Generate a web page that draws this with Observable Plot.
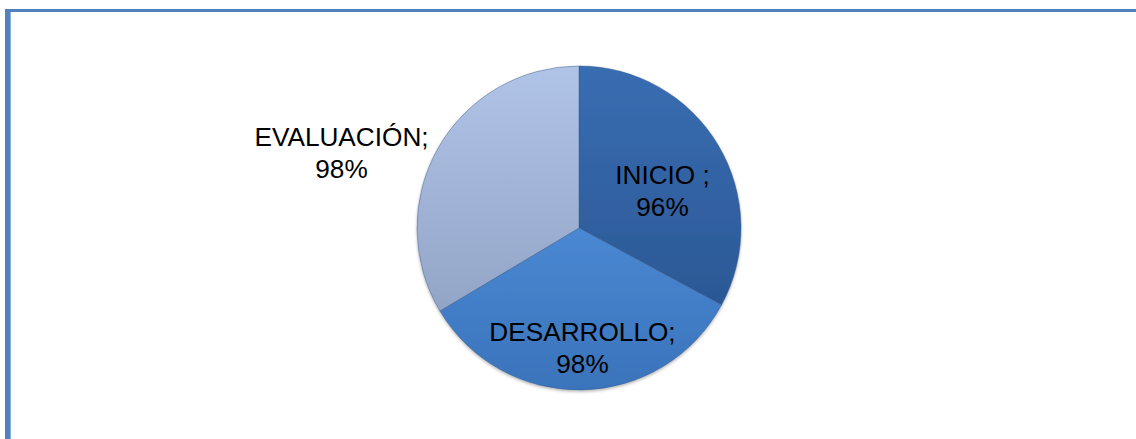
<!DOCTYPE html>
<html><head><meta charset="utf-8">
<script src="https://cdn.jsdelivr.net/npm/d3@7"></script>
<script src="https://cdn.jsdelivr.net/npm/@observablehq/plot@0.6"></script>
<style>
html,body{margin:0;padding:0;background:#fff;overflow:hidden;width:1136px;height:439px}
#frame{position:absolute;left:5px;top:9px;width:1300px;height:600px;border-left:5px solid #4F81BD;border-top:3px solid #4F81BD;box-sizing:border-box}
#frame:after{content:"";position:absolute;left:0;top:0;width:1px;height:100%;background:#8DB0DC}
#chart{position:absolute;left:0;top:0}
</style></head><body><div id="frame"></div><div id="chart"></div>
<script>
// data
const categories = ["INICIO ", "DESARROLLO", "EVALUACIÓN"];
const values = [0.96, 0.98, 0.98];
const valueLabels = ["96%", "98%", "98%"];

// layout (not data)
const center = [579, 228];
const radius = 162;
const sliceTop = ["#396DB2", "#4A88D3", "#B0C4E7"];
const sliceBottom = ["#2B5895", "#3A73BA", "#93A5C7"];
// label anchor: offset of last-line baseline from pie center
const labelOffset = [[83, -13], [3, 144], [-238, -51]];

const rows = categories.map((c, i) => ({
  category: c, value: values[i], label: valueLabels[i],
  text: `${c};\n${valueLabels[i]}`,
  lx: center[0] + labelOffset[i][0], ly: center[1] + labelOffset[i][1],
  i
}));

function pieMark(index, scales, vals, dimensions, context) {
  const g = d3.create("svg:g");
  const defs = g.append("defs");
  rows.forEach((r, i) => {
    const lg = defs.append("linearGradient").attr("id", "sg" + i)
      .attr("x1", 0).attr("y1", 0).attr("x2", 0).attr("y2", 1);
    lg.append("stop").attr("offset", "0%").attr("stop-color", sliceTop[i]);
    lg.append("stop").attr("offset", "100%").attr("stop-color", sliceBottom[i]);
  });
  const f = defs.append("filter").attr("id", "pshadow").attr("x", "-10%").attr("y", "-10%").attr("width", "120%").attr("height", "120%");
  f.append("feDropShadow").attr("dx", 0).attr("dy", 1.5).attr("stdDeviation", 1.5).attr("flood-color", "#000").attr("flood-opacity", 0.3);
  const cx = scales.x(center[0]), cy = scales.y(center[1]);
  const arcs = d3.pie().sort(null).value(d => d.value)(rows);
  const arc = d3.arc().innerRadius(0).outerRadius(radius);
  g.append("g").attr("transform", `translate(${cx},${cy})`)
    .attr("filter", "url(#pshadow)")
    .selectAll("path").data(arcs).join("path")
    .attr("d", arc)
    .attr("fill", (d, i) => `url(#sg${i})`)
    .attr("stroke", "#3A5A85")
    .attr("stroke-opacity", 0.45)
    .attr("stroke-width", 1);
  return g.node();
}

const plot = Plot.plot({
  width: 1136,
  height: 439,
  margin: 0,
  x: {domain: [0, 1136], range: [0, 1136], axis: null},
  y: {domain: [0, 439], range: [0, 439], axis: null},
  style: {background: "transparent", overflow: "visible"},
  marks: [
    pieMark,
    Plot.text(rows, {
      x: "lx", y: "ly", text: "text",
      lineAnchor: "bottom", lineHeight: 1.2,
      fontSize: 26.2, fill: "#000",
      fontFamily: "Liberation Sans, Arial, sans-serif"
    })
  ]
});
document.getElementById("chart").appendChild(plot);
</script></body></html>
